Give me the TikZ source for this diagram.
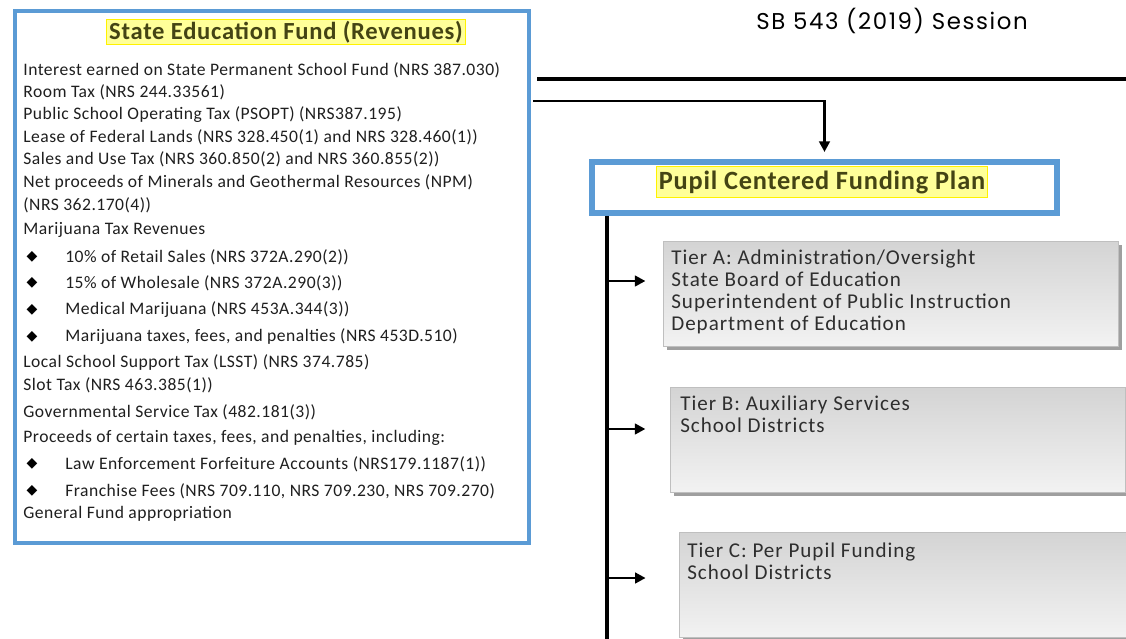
\documentclass[tikz,border=0pt]{standalone}
\usepackage{fontspec}
\setmainfont{Carlito}
\newfontfamily\revfont[LetterSpace=2.8]{Carlito}
\newfontfamily\tierfont[LetterSpace=4.6]{Carlito}
\newfontfamily\titlefont[LetterSpace=3]{Carlito}
\newfontfamily\sessionfont[LetterSpace=7]{Poppins}
\newfontfamily\bulletfont{DejaVu Sans}
\usetikzlibrary{arrows.meta,shadows}

\definecolor{fundblue}{RGB}{91,155,213}
\definecolor{hiliteyellow}{RGB}{255,255,153}
\definecolor{olivetext}{RGB}{68,68,20}

\begin{document}
\begin{tikzpicture}[
    x=0.02cm, y=-0.02cm,
    frame/.style={draw=fundblue, fill=white, anchor=north west, inner sep=0pt},
    hilite/.style={fill=hiliteyellow, draw=yellow, line width=0.7pt,
      text=olivetext, inner xsep=1.5pt, inner ysep=1pt,
      font=\titlefont\bfseries\fontsize{14}{16}\selectfont},
    rev/.style={anchor=west, inner sep=0pt, text=black!88,
      font=\revfont\fontsize{10}{12}\selectfont},
    bul/.style={anchor=center, inner sep=0pt,
      font=\bulletfont\fontsize{8}{9}\selectfont},
    tier/.style={draw=gray!50, anchor=north west, top color=gray!34,
      bottom color=gray!10, minimum width=455*\px, minimum height=105*\px,
      drop shadow={shadow xshift=2pt, shadow yshift=-2pt, fill=gray!75, opacity=1}},
    tiertxt/.style={anchor=north west, align=left, inner sep=0pt,
      text=black!82, font=\tierfont\fontsize{12}{12.5}\selectfont},
    bar/.style={line width=2.6pt},
    arr/.style={-{Triangle[length=6pt, width=6pt]}, line width=1.7pt},
  ]
  \def\px{0.02cm}  % one unit of the grid
  \useasboundingbox (0,0) rectangle (1126,639);

  % Revenues box
  \node[frame, line width=2.8pt, minimum width=514*\px, minimum height=532*\px]
    (fund) at (12.5,8.5) {};
  \node[hilite] (fundtitle) at (286,32) {State Education Fund (Revenues)};

  \node[rev] (rev1)  at (23,70)  {Interest earned on State Permanent School Fund (NRS 387.030)};
  \node[rev] (rev2)  at (23,92)  {Room Tax (NRS 244.33561)};
  \node[rev] (rev3)  at (23,115) {Public School Operating Tax (PSOPT) (NRS387.195)};
  \node[rev] (rev4)  at (23,137) {Lease of Federal Lands (NRS 328.450(1) and NRS 328.460(1))};
  \node[rev] (rev5)  at (23,159) {Sales and Use Tax (NRS 360.850(2) and NRS 360.855(2))};
  \node[rev] (rev6)  at (23,182) {Net proceeds of Minerals and Geothermal Resources (NPM)};
  \node[rev] (rev7)  at (23,205) {(NRS 362.170(4))};
  \node[rev] (rev8)  at (23,230) {Marijuana Tax Revenues};
  \node[bul] (bul1)  at (32,257) {◆};
  \node[rev] (rev9)  at (65,257) {10\% of Retail Sales (NRS 372A.290(2))};
  \node[bul] (bul2)  at (32,283) {◆};
  \node[rev] (rev10) at (65,283) {15\% of Wholesale (NRS 372A.290(3))};
  \node[bul] (bul3)  at (32,310) {◆};
  \node[rev] (rev11) at (65,310) {Medical Marijuana (NRS 453A.344(3))};
  \node[bul] (bul4)  at (32,337) {◆};
  \node[rev] (rev12) at (65,337) {Marijuana taxes, fees, and penalties (NRS 453D.510)};
  \node[rev] (rev13) at (23,362) {Local School Support Tax (LSST) (NRS 374.785)};
  \node[rev] (rev14) at (23,385) {Slot Tax (NRS 463.385(1))};
  \node[rev] (rev15) at (23,412) {Governmental Service Tax (482.181(3))};
  \node[rev] (rev16) at (23,438) {Proceeds of certain taxes, fees, and penalties, including:};
  \node[bul] (bul5)  at (32,464) {◆};
  \node[rev] (rev17) at (65,464) {Law Enforcement Forfeiture Accounts (NRS179.1187(1))};
  \node[bul] (bul6)  at (32,491) {◆};
  \node[rev] (rev18) at (65,491) {Franchise Fees (NRS 709.110, NRS 709.230, NRS 709.270)};
  \node[rev] (rev19) at (23,514) {General Fund appropriation};

  % Session heading and plan box
  \node[font=\sessionfont\fontsize{13}{15}\selectfont] (session) at (892,21)
    {SB 543 (2019) Session};
  \node[frame, line width=3.4pt, minimum width=465*\px, minimum height=51*\px]
    (plan) at (589,159) {};
  \node[hilite, inner ysep=2.5pt, font=\titlefont\bfseries\fontsize{15}{17}\selectfont]
    (plantitle) at (822,182) {Pupil Centered Funding Plan};

  % Tiers
  \node[tier] (tierA) at (663,241) {};
  \node[tiertxt] (tierAtxt) at (671,250)
    {Tier A: Administration/Oversight\\State Board of Education\\
     Superintendent of Public Instruction\\Department of Education};
  \node[tier] (tierB) at (670,387) {};
  \node[tiertxt] (tierBtxt) at (680,396)
    {Tier B: Auxiliary Services\\School Districts};
  \node[tier] (tierC) at (679,532) {};
  \node[tiertxt] (tierCtxt) at (687,543)
    {Tier C: Per Pupil Funding\\School Districts};

  % Flow lines
  \coordinate (barL) at (537,79);
  \coordinate (barR) at (1126,79);
  \draw[bar] (barL) -- (barR);

  \coordinate (feed) at (533,101);
  \draw[arr, shorten >=4pt] (feed) -| (plan.north);

  \coordinate (spineEnd) at (607,645);
  \draw[bar, line width=2.3pt] (plan.south -| spineEnd) -- (spineEnd);

  \coordinate (tapA) at (607,281);
  \coordinate (tapB) at (607,429);
  \coordinate (tapC) at (607,578);
  \draw[arr, shorten >=10pt] (tapA) -- (tapA -| tierA.west);
  \draw[arr, shorten >=14pt] (tapB) -- (tapB -| tierB.west);
  \draw[arr, shorten >=19pt] (tapC) -- (tapC -| tierC.west);
\end{tikzpicture}
\end{document}
